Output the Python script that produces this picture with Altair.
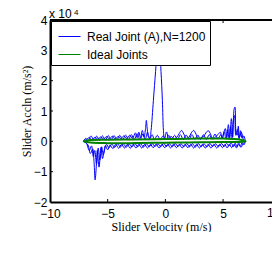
import altair as alt
import pandas as pd

# ---- data (acceleration in units of 1e4 m/s^2) ----
upper1 = [(-7.10,0.00),(-6.85,0.06),(-6.60,0.12),(-6.35,0.05),(-6.10,0.14),(-5.85,0.06),(-5.60,0.15),(-5.35,0.07),
          (-5.10,0.16),(-4.85,0.08),(-4.60,0.17),(-4.35,0.08),(-4.10,0.16),(-3.85,0.09),(-3.60,0.18),(-3.35,0.09),
          (-3.10,0.20),(-2.85,0.10),(-2.60,0.28),(-2.45,0.12),(-2.30,0.30),(-2.15,0.12),(-2.00,0.36),(-1.85,0.14),
          (-1.72,0.42),(-1.65,0.69),(-1.57,0.40),(-1.47,0.14),(-1.35,0.10),(-1.24,0.36),(-1.04,1.35),(-0.85,2.30),
          (-0.72,2.90),(-0.60,3.07),(-0.48,2.90),(-0.38,2.30),(-0.26,1.35),(-0.17,0.36),(-0.08,0.06),(0.10,0.31),
          (0.28,0.10),(0.50,0.16),(0.75,0.08),(1.00,0.14),(1.20,0.26),(1.40,0.36),(1.60,0.24),(1.80,0.08),
          (2.05,0.14),(2.25,0.28),(2.45,0.36),(2.65,0.24),(2.85,0.08),(3.10,0.12),(3.35,0.18),(3.55,0.30),
          (3.72,0.35),(3.90,0.25),(4.10,0.08),(4.35,0.15),(4.55,0.22),(4.77,0.30),(4.90,0.10),(5.05,0.28),
          (5.20,0.42),(5.32,0.12),(5.46,0.55),(5.58,0.12),(5.72,0.75),(5.84,0.15),(5.95,1.05),(6.03,1.13),
          (6.12,0.30),(6.22,0.20),(6.32,0.50),(6.42,0.12),(6.58,0.30),(6.75,0.08),(6.93,0.00)]
lower1 = [(6.93,0.00),(6.80,-0.12),(6.65,-0.04),(6.50,-0.16),(6.35,-0.05),(6.20,-0.18),(6.05,-0.06),(5.90,-0.17),
          (5.70,-0.05),(5.50,-0.16),(5.30,-0.06),(5.10,-0.17),(4.85,-0.07),(4.60,-0.18),(4.35,-0.08),(4.10,-0.17),
          (3.85,-0.07),(3.60,-0.19),(3.35,-0.08),(3.10,-0.18),(2.85,-0.07),(2.60,-0.19),(2.35,-0.08),(2.10,-0.18),
          (1.85,-0.07),(1.60,-0.18),(1.35,-0.08),(1.10,-0.17),(0.85,-0.07),(0.60,-0.18),(0.35,-0.08),(0.10,-0.17),
          (-0.15,-0.07),(-0.40,-0.18),(-0.65,-0.08),(-0.90,-0.17),(-1.15,-0.07),(-1.40,-0.18),(-1.65,-0.08),
          (-1.90,-0.19),(-2.15,-0.08),(-2.40,-0.18),(-2.65,-0.07),(-2.90,-0.19),(-3.15,-0.08),(-3.40,-0.20),
          (-3.65,-0.08),(-3.90,-0.19),(-4.15,-0.08),(-4.40,-0.20),(-4.65,-0.09),(-4.90,-0.22),(-5.10,-0.10),
          (-5.30,-0.32),(-5.45,-0.57),(-5.58,-0.20),(-5.75,-0.85),(-5.90,-0.30),(-6.00,-0.90),(-6.09,-1.27),
          (-6.18,-0.70),(-6.30,-0.25),(-6.50,-0.40),(-6.70,-0.12),(-6.90,-0.05),(-7.10,0.00)]
upper2 = [(-7.10,0.00),(-6.90,0.10),(-6.70,0.02),(-6.45,0.18),(-6.20,0.04),(-5.95,0.17),(-5.70,0.03),(-5.45,0.18),
          (-5.20,0.04),(-4.95,0.19),(-4.70,0.05),(-4.45,0.19),(-4.20,0.05),(-3.95,0.20),(-3.70,0.05),(-3.45,0.21),
          (-3.20,0.06),(-2.95,0.22),(-2.70,0.06),(-2.45,0.25),(-2.20,0.06),(-1.95,0.24),(-1.75,0.06),(-1.55,0.30),
          (-1.35,0.08),(-1.15,0.22),(-0.95,0.06),(-0.70,0.20),(-0.45,0.06),(-0.20,0.18),(0.05,0.05),(0.30,0.20),
          (0.55,0.06),(0.80,0.20),(1.05,0.06),(1.30,0.22),(1.55,0.06),(1.80,0.21),(2.05,0.06),(2.30,0.22),
          (2.55,0.06),(2.80,0.21),(3.05,0.06),(3.30,0.22),(3.55,0.06),(3.80,0.22),(4.05,0.07),(4.30,0.24),
          (4.55,0.08),(4.80,0.22),(4.95,0.08),(5.10,0.32),(5.25,0.08),(5.40,0.38),(5.52,0.08),(5.66,0.48),
          (5.78,0.10),(5.90,0.70),(6.00,0.85),(6.10,0.20),(6.25,0.40),(6.38,0.08),(6.52,0.35),(6.65,0.10),
          (6.80,0.18),(6.93,0.00)]
lower2 = [(6.93,0.00),(6.75,-0.06),(6.55,-0.20),(6.35,-0.10),(6.15,-0.22),(5.95,-0.10),(5.75,-0.21),(5.55,-0.09),
          (5.35,-0.22),(5.15,-0.10),(4.95,-0.21),(4.70,-0.10),(4.45,-0.22),(4.20,-0.10),(3.95,-0.22),(3.70,-0.10),
          (3.45,-0.22),(3.20,-0.10),(2.95,-0.22),(2.70,-0.10),(2.45,-0.22),(2.20,-0.10),(1.95,-0.21),(1.70,-0.10),
          (1.45,-0.22),(1.20,-0.10),(0.95,-0.21),(0.70,-0.09),(0.45,-0.22),(0.20,-0.10),(-0.05,-0.21),(-0.30,-0.10),
          (-0.55,-0.22),(-0.80,-0.09),(-1.05,-0.21),(-1.30,-0.10),(-1.55,-0.22),(-1.80,-0.10),(-2.05,-0.22),
          (-2.30,-0.10),(-2.55,-0.22),(-2.80,-0.10),(-3.05,-0.23),(-3.30,-0.10),(-3.55,-0.22),(-3.80,-0.10),
          (-4.05,-0.23),(-4.30,-0.10),(-4.55,-0.24),(-4.80,-0.12),(-5.00,-0.28),(-5.20,-0.14),(-5.38,-0.45),
          (-5.52,-0.18),(-5.68,-0.62),(-5.82,-0.22),(-5.97,-0.75),(-6.12,-0.30),(-6.25,-0.50),(-6.40,-0.15),
          (-6.60,-0.30),(-6.85,-0.06),(-7.10,0.00)]
ideal = [(-7.10,0.00),(-6.50,0.04),(-5.00,0.05),(-3.00,0.06),(-1.00,0.07),(1.00,0.08),(3.00,0.09),(5.00,0.09),
         (6.30,0.07),(6.95,0.00),(6.30,-0.02),(5.00,-0.02),(3.00,-0.03),(1.00,-0.04),(-1.00,-0.05),(-3.00,-0.06),
         (-5.00,-0.06),(-6.50,-0.04),(-7.10,0.00)]

series = ["Real Joint (A),N=1200", "Ideal Joints"]
colors = ["#0000ff", "#008000"]
x_ticks = [-10, -5, 0, 5]          # 10 sits just past the window edge
x_inner = [-5, 0, 5]
y_ticks = [-2, -1, 0, 1, 2, 3, 4]
y_inner = [-1, 0, 1, 2, 3]

blue_pts = upper1 + lower1 + upper2 + lower2
blue_df = pd.DataFrame({"v": [p[0] for p in blue_pts], "a": [p[1] for p in blue_pts],
                        "idx": list(range(len(blue_pts))), "s": series[0]})
green_df = pd.DataFrame({"v": [p[0] for p in ideal], "a": [p[1] for p in ideal],
                         "idx": list(range(len(ideal))), "s": series[1]})

W, H = 222, 182
LAB = "Liberation Sans"
TIT = "Liberation Serif"

xs = alt.Scale(domain=[-10, 9.24], nice=False, zero=False)
ys = alt.Scale(domain=[-2, 4], nice=False, zero=False)
color = alt.Color("s:N", scale=alt.Scale(domain=series, range=colors),
                  legend=alt.Legend(title=None, orient="none", legendX=1, legendY=1,
                                    symbolType="stroke", symbolSize=484, symbolStrokeWidth=1,
                                    symbolOffset=3,
                                    labelFont=LAB, labelFontSize=12, labelColor="black",
                                    fillColor="white", strokeColor="black", padding=4,
                                    rowPadding=0, labelOffset=6, labelLimit=300))

xax = alt.Axis(values=x_ticks, tickSize=0, grid=False, domain=True, domainColor="black", domainWidth=2,
               labelFont=LAB, labelFontSize=12, labelColor="black", labelPadding=6, labelOverlap=False,
               title="Slider Velocity (m/s)", titleFont=TIT, titleFontSize=12, titleFontWeight="normal",
               titleColor="black", titlePadding=2, labelFlush=False)
yax = alt.Axis(values=y_ticks, tickSize=0, grid=False, domain=True, domainColor="black", domainWidth=2,
               labelFont=LAB, labelFontSize=12, labelColor="black", labelPadding=3, labelOverlap=False,
               title="Slider Accln (m/s²)", titleFont=TIT, titleFontSize=12, titleFontWeight="normal",
               titleColor="black", titlePadding=0, labelFlush=False)

X = lambda f: alt.X(f, scale=xs, axis=xax, title="Slider Velocity (m/s)")
Y = lambda f: alt.Y(f, scale=ys, axis=yax, title="Slider Accln (m/s²)")

blue = alt.Chart(blue_df).mark_line(strokeWidth=1, interpolate="catmull-rom").encode(
    x=X("v:Q"), y=Y("a:Q"), order="idx:Q", color=color)
green = alt.Chart(green_df).mark_line(strokeWidth=2, interpolate="catmull-rom").encode(
    x=X("v:Q"), y=Y("a:Q"), order="idx:Q", color=color)

xt_df = pd.DataFrame({"t": x_inner})
yt_df = pd.DataFrame({"t": y_inner})
tick_b = alt.Chart(xt_df).mark_rule(color="black", strokeWidth=1).encode(
    x=X("t:Q"), y=alt.value(H), y2=alt.value(H - 3))
tick_t = alt.Chart(xt_df).mark_rule(color="black", strokeWidth=1).encode(
    x=X("t:Q"), y=alt.value(0), y2=alt.value(3))
tick_l = alt.Chart(yt_df).mark_rule(color="black", strokeWidth=1).encode(
    y=Y("t:Q"), x=alt.value(0), x2=alt.value(3))
top_line = alt.Chart(pd.DataFrame({"t": [0]})).mark_rule(color="black", strokeWidth=2).encode(
    x=alt.value(0), x2=alt.value(W), y=alt.value(0))

exp_txt = alt.Chart(pd.DataFrame({"t": ["x 10"]})).mark_text(
    align="left", baseline="alphabetic", font=LAB, fontSize=12, color="black").encode(
    x=alt.value(-1), y=alt.value(-2), text="t:N")
sup_txt = alt.Chart(pd.DataFrame({"t": ["4"]})).mark_text(
    align="left", baseline="alphabetic", font=LAB, fontSize=8, color="black").encode(
    x=alt.value(24), y=alt.value(-5), text="t:N")
edge_lab = alt.Chart(pd.DataFrame({"t": ["10"]})).mark_text(
    align="left", baseline="top", font=LAB, fontSize=12, color="black").encode(
    x=alt.value(W - 5), y=alt.value(H + 6), text="t:N")

chart = alt.layer(blue, green, tick_b, tick_t, tick_l, top_line, exp_txt, sup_txt, edge_lab).properties(
    width=W, height=H,
    autosize=alt.AutoSizeParams(type="none"),
    padding={"left": 42, "top": 12, "right": 0, "bottom": 30},
).configure_view(stroke=None).configure(background="white")

chart.save("out.html", embed_options={"renderer": "svg", "actions": False})
